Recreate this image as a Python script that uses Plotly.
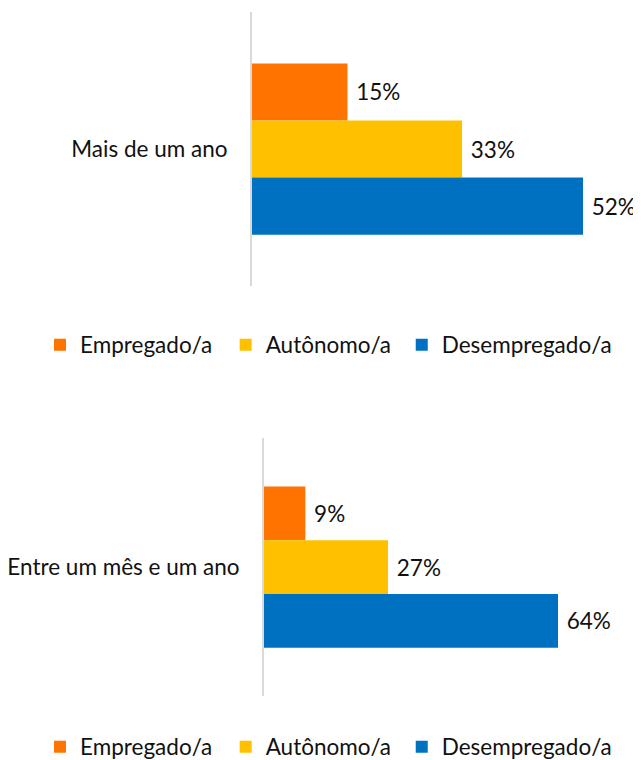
import plotly.graph_objects as go

series = ["Empregado/a", "Autônomo/a", "Desempregado/a"]
colors = ["#FF7300", "#FFC000", "#0070C0"]
top_category = ["Mais de um ano"]
top_values = [15, 33, 52]
bottom_category = ["Entre um mês e um ano"]
bottom_values = [9, 27, 64]

FONT = "Lato"
FS = 22.5
TXT = "#111111"
OFF = 8  # page body margin
W, H = 641 - OFF, 760 - OFF
# trailing spacing after each legend label (layout only)
legend_pads = ["\u00a0\u2009", "\u00a0", ""]


def px_x(v):
    return (v - OFF) / W


def px_y(v):
    return 1 - (v - OFF) / H


fig = go.Figure()
for name, col, v, pad in zip(series, colors, top_values, legend_pads):
    fig.add_trace(go.Bar(
        y=top_category, x=[v], orientation="h", name=name + pad,
        marker=dict(color=col, line=dict(width=0)),
        text=[f" {v}%"], textposition="outside", cliponaxis=False,
        textfont=dict(family=FONT, size=FS, color=TXT),
        xaxis="x", yaxis="y", legend="legend",
    ))
for name, col, v, pad in zip(series, colors, bottom_values, legend_pads):
    fig.add_trace(go.Bar(
        y=bottom_category, x=[v], orientation="h", name=name + pad,
        marker=dict(color=col, line=dict(width=0)),
        text=[f" {v}%"], textposition="outside", cliponaxis=False,
        textfont=dict(family=FONT, size=FS, color=TXT),
        xaxis="x2", yaxis="y2", legend="legend2",
    ))

top_x0 = 252
top_scale = (583 - 252) / 52
bot_x0 = 264
bot_scale = (558 - 264) / 64

legend_common = dict(orientation="h", xanchor="left", yanchor="middle",
                     font=dict(family=FONT, size=FS, color=TXT),
                     traceorder="normal", bgcolor="rgba(0,0,0,0)")

fig.update_layout(
    width=W, height=H,
    margin=dict(l=0, r=0, t=0, b=0, autoexpand=False),
    paper_bgcolor="white", plot_bgcolor="white",
    font=dict(family=FONT, size=FS, color=TXT),
    barmode="group", bargap=0.375, bargroupgap=0,
    xaxis=dict(domain=[px_x(top_x0), 1], range=[0, (641 - top_x0) / top_scale],
               showgrid=False, zeroline=False, showticklabels=False, showline=False),
    yaxis=dict(domain=[px_y(286), px_y(12)], anchor="x", range=[0.5, -0.5],
               showline=True, linecolor="#D9D9D9", linewidth=2, showgrid=False,
               ticks="", ticklabelstandoff=18,
               tickfont=dict(family=FONT, size=FS, color=TXT)),
    xaxis2=dict(domain=[px_x(bot_x0), 1], range=[0, (641 - bot_x0) / bot_scale],
                anchor="y2",
                showgrid=False, zeroline=False, showticklabels=False, showline=False),
    yaxis2=dict(domain=[px_y(696), px_y(438)], anchor="x2", range=[0.5, -0.5],
                showline=True, linecolor="#D9D9D9", linewidth=2, showgrid=False,
                ticks="", ticklabelstandoff=18,
                tickfont=dict(family=FONT, size=FS, color=TXT)),
    legend=dict(x=px_x(40), y=px_y(345), **legend_common),
    legend2=dict(x=px_x(40), y=px_y(747), **legend_common),
)

fig.write_html("out.html")
